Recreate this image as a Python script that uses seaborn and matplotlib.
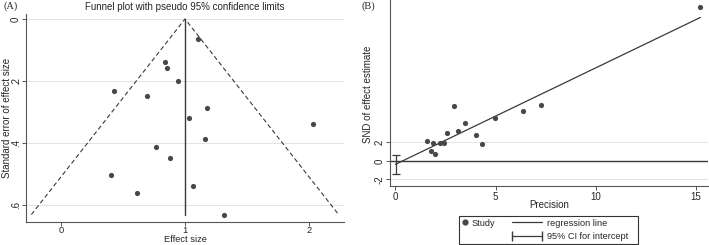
import numpy as np
import pandas as pd
import seaborn as sns
import matplotlib.pyplot as plt
from matplotlib.lines import Line2D

# panel A: funnel plot values
effect_size = [1.107, 0.841, 0.852, 0.946, 0.430, 0.694, 1.175, 1.030,
               2.027, 1.164, 0.766, 0.876, 0.403, 1.062, 0.613, 1.312]
std_error = [0.066, 0.138, 0.157, 0.200, 0.232, 0.249, 0.286, 0.319,
             0.340, 0.386, 0.413, 0.449, 0.504, 0.539, 0.562, 0.631]
pooled_effect = 1.0

# panel B: Egger regression values
precision = [15.22, 1.59, 1.86, 1.77, 1.99, 2.22, 2.42, 2.59,
             2.93, 3.13, 3.48, 4.01, 4.31, 4.98, 6.37, 7.26]
snd = [16.76, 2.11, 1.96, 1.09, 0.80, 1.96, 1.89, 2.98,
       5.96, 3.20, 4.11, 2.80, 1.85, 4.69, 5.42, 6.11]
reg_intercept = -0.38
reg_slope = 1.05
intercept_ci = [-1.45, 0.62]

a_df = pd.DataFrame({"effect": effect_size, "se": std_error})
b_df = pd.DataFrame({"precision": precision, "snd": snd})

sns.set_style("white")
plt.rcParams['font.family'] = ['Liberation Sans', 'DejaVu Sans']
plt.rcParams['font.size'] = 7

dot_col = "#474747"
line_col = "#3a3a3a"
grid_col = "#e4e4e4"

fig = plt.figure(figsize=(7.09, 2.45), dpi=100)
ax1 = fig.add_axes([26/709, 1-222/245, 318/709, 208/245])
ax2 = fig.add_axes([390/709, 1-185.5/245, 318/709, 185.5/245])

# ---- (A) funnel plot
for yv in [0, .2, .4, .6]:
    ax1.axhline(yv, color=grid_col, lw=0.7, zorder=0)
se_max = max(std_error)
ax1.plot([pooled_effect - 1.96*se_max, pooled_effect, pooled_effect + 1.96*se_max],
         [se_max, 0, se_max], ls=(0, (4, 2.5)), color=line_col, lw=0.8)
ax1.plot([pooled_effect, pooled_effect], [0, se_max], color=line_col, lw=1.0)
sns.scatterplot(data=a_df, x="effect", y="se", ax=ax1, color=dot_col,
                s=14, linewidth=0, zorder=3)
ax1.set_xlim(-0.28, 2.28)
ax1.set_ylim(0.655, -0.016)
ax1.set_xticks([0, 1, 2])
ax1.set_xticklabels(["0", "1", "2"])
ax1.set_yticks([0, .2, .4, .6])
ax1.set_yticklabels(["0", ".2", ".4", ".6"], rotation=90, va="center")
ax1.set_xlabel("Effect size", fontsize=6.7)
ax1.set_ylabel("Standard error of effect size")
ax1.xaxis.set_label_coords(0.5, -0.064)
ax1.yaxis.set_label_coords(-0.044, 0.5)
ax1.set_title("Funnel plot with pseudo 95% confidence limits", fontsize=7, pad=3)

# ---- (B) Egger plot
for yv in [-2, 2]:
    ax2.axhline(yv, color=grid_col, lw=0.7, zorder=0)
ax2.axhline(0, color=line_col, lw=1.0, zorder=1)
xs = np.array([0, max(precision)])
ax2.plot(xs, reg_intercept + reg_slope*xs, color=line_col, lw=0.9)
ci_mid = np.mean(intercept_ci)
ax2.errorbar([0.05], [ci_mid],
             yerr=[[ci_mid - intercept_ci[0]], [intercept_ci[1] - ci_mid]],
             fmt="none", ecolor=line_col, elinewidth=0.9, capsize=3, capthick=0.9)
sns.scatterplot(data=b_df, x="precision", y="snd", ax=ax2, color=dot_col,
                s=14, linewidth=0, zorder=3)
ax2.set_xlim(-0.27, 15.6)
ax2.set_ylim(-2.68, 17.5)
ax2.set_xticks([0, 5, 10, 15])
ax2.set_yticks([-2, 0, 2])
ax2.set_yticklabels(["-2", "0", "2"], rotation=90, va="center")
ax2.set_xlabel("Precision")
ax2.set_ylabel("SND of effect estimate")
ax2.xaxis.set_label_coords(0.5, -0.078)
ax2.yaxis.set_label_coords(-0.052, 0.49)

for ax in (ax1, ax2):
    sns.despine(ax=ax)
    for sp in ("left", "bottom"):
        ax.spines[sp].set_color("#555555")
        ax.spines[sp].set_linewidth(0.8)
    ax.tick_params(direction="out", length=3, width=0.7, color="#555555",
                   labelsize=7, left=True, bottom=True)
    ax.tick_params(axis="x", pad=1.5)
    ax.tick_params(axis="y", pad=0.8)
ax1.tick_params(axis="x", length=2.8, pad=0.3, labelsize=6.7)

# legend: framed box holds "Study", second unframed legend holds the lines
leg_kw = dict(loc="lower left", fontsize=6.6, borderaxespad=0, borderpad=0.3,
              labelspacing=0.5)
study_h = Line2D([], [], marker="o", ls="none", color=dot_col, markersize=3.5)
blank_h = Line2D([], [], alpha=0)
leg1 = fig.legend(handles=[study_h, blank_h], labels=["Study", ""],
                  bbox_to_anchor=(459/709, 1/245, 179/709, 29/245), mode="expand",
                  frameon=True, fancybox=False, edgecolor="#333333", framealpha=1,
                  handlelength=0.6, handletextpad=0.5, **leg_kw)
leg1.get_frame().set_linewidth(0.8)

reg_h = Line2D([], [], color=line_col, lw=0.9)
ci_h = Line2D([], [], color=line_col, lw=0.9, marker="|", markersize=7)
fig.legend(handles=[reg_h, ci_h], labels=["regression line", "95% CI for intercept"],
           bbox_to_anchor=(506/709, 1/245), frameon=False, numpoints=2,
           handlelength=3.9, handletextpad=0.3, **leg_kw)

fig.text(4/709, 1-6/245, "(A)", family="Liberation Serif", fontsize=7.5, va="center")
fig.text(362/709, 1-6/245, "(B)", family="Liberation Serif", fontsize=7.5, va="center")

fig.savefig("out.png", dpi=100)
